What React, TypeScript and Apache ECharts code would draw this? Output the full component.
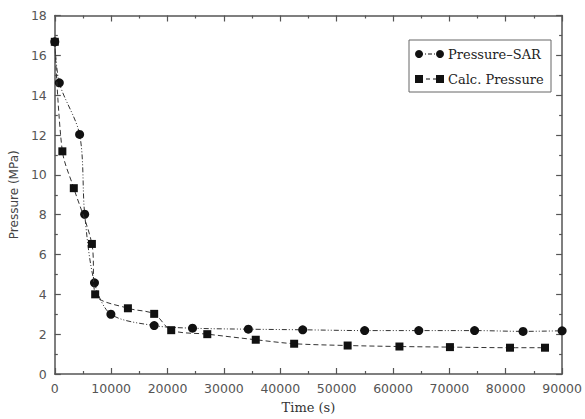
import React, { useEffect, useRef } from "react";
import * as echarts from "echarts";

// Pressure-SAR measurements: time (s), pressure (MPa)
const sarTime = [0, 800, 4400, 5300, 7040, 9950, 17630, 24430, 34330, 43980, 54970, 64570, 74470, 83070, 90000];
const sarPressure = [16.68, 14.62, 12.03, 8.02, 4.58, 3.0, 2.43, 2.3, 2.25, 2.22, 2.18, 2.18, 2.18, 2.14, 2.17];

// Calculated pressure: time (s), pressure (MPa)
const calcTime = [0, 1340, 3370, 6580, 7160, 12970, 17630, 20650, 27050, 35650, 42460, 51950, 61140, 70100, 80750, 86960];
const calcPressure = [16.68, 11.18, 9.33, 6.53, 4.0, 3.3, 3.02, 2.2, 2.0, 1.72, 1.52, 1.43, 1.38, 1.35, 1.32, 1.32];

const xTicks = [0, 10000, 20000, 30000, 40000, 50000, 60000, 70000, 80000, 90000];
const yTicks = [0, 2, 4, 6, 8, 10, 12, 14, 16, 18];

const axisColor = "#555";
const ink = "#111";
const labelFont = "DejaVu Sans";
const titleFont = "DejaVu Serif";

export default function App() {
  const ref = useRef<HTMLDivElement>(null);

  useEffect(() => {
    if (!ref.current) return;
    document.body.style.margin = "0";
    const chart = echarts.init(ref.current, null, { renderer: "svg" });

    const frameAxis = (show: boolean) => ({
      axisLine: { show: true, onZero: false, lineStyle: { color: axisColor, width: 1.5 } },
      axisTick: { show: true, inside: true, length: 6, lineStyle: { color: axisColor, width: 1.2 } },
      minorTick: { show: true, splitNumber: 2, length: 3, lineStyle: { color: axisColor, width: 1.2 } },
      splitLine: { show: false },
      axisLabel: { show },
    });

    const xMin = xTicks[0];
    const xMax = xTicks[xTicks.length - 1];
    const xStep = xTicks[1] - xTicks[0];
    const yMin = yTicks[0];
    const yMax = yTicks[yTicks.length - 1];
    const yStep = yTicks[1] - yTicks[0];

    const sarData = sarTime.map((t, i) => [t, sarPressure[i]]);
    const calcData = calcTime.map((t, i) => [t, calcPressure[i]]);

    // legend block drawn in the upper right of the plot
    const lx = 409;
    const ly = 40;
    const legend = {
      type: "group",
      children: [
        { type: "rect", shape: { x: lx, y: ly, width: 142, height: 52 }, style: { fill: "#fff", stroke: "#666", lineWidth: 1 } },
        { type: "line", shape: { x1: lx + 10, y1: ly + 14, x2: lx + 31, y2: ly + 14 }, style: { stroke: ink, lineWidth: 1, lineDash: [4, 2, 1, 2] } },
        { type: "circle", shape: { cx: lx + 10, cy: ly + 14, r: 4 }, style: { fill: ink } },
        { type: "circle", shape: { cx: lx + 31, cy: ly + 14, r: 4 }, style: { fill: ink } },
        { type: "text", x: lx + 39, y: ly + 14, style: { text: "Pressure–SAR", fill: "#222", font: `13px "${titleFont}"`, verticalAlign: "middle" } },
        { type: "line", shape: { x1: lx + 10, y1: ly + 39, x2: lx + 31, y2: ly + 39 }, style: { stroke: ink, lineWidth: 1, lineDash: [4, 3] } },
        { type: "rect", shape: { x: lx + 6, y: ly + 35, width: 8, height: 8 }, style: { fill: ink } },
        { type: "rect", shape: { x: lx + 27, y: ly + 35, width: 8, height: 8 }, style: { fill: ink } },
        { type: "text", x: lx + 39, y: ly + 39, style: { text: "Calc. Pressure", fill: "#222", font: `13px "${titleFont}"`, verticalAlign: "middle" } },
      ],
    };

    const plain = (v: number) => String(v);

    chart.setOption({
      animation: false,
      backgroundColor: "#fff",
      grid: { left: 49, right: 20, top: 15.5, bottom: 43, containLabel: false },
      xAxis: [
        {
          type: "value",
          min: xMin,
          max: xMax,
          interval: xStep,
          position: "bottom",
          name: "Time (s)",
          nameLocation: "middle",
          nameGap: 27,
          nameTextStyle: { fontFamily: titleFont, fontSize: 13, color: "#333" },
          ...frameAxis(true),
          axisLabel: { show: true, fontFamily: labelFont, fontSize: 12.5, color: "#555", margin: 8, formatter: plain },
        },
        { type: "value", min: xMin, max: xMax, interval: xStep, position: "top", ...frameAxis(false) },
      ],
      yAxis: [
        {
          type: "value",
          min: yMin,
          max: yMax,
          interval: yStep,
          position: "left",
          name: "Pressure (MPa)",
          nameLocation: "middle",
          nameGap: 32,
          nameTextStyle: { fontFamily: labelFont, fontSize: 12, color: "#444" },
          ...frameAxis(true),
          axisLabel: { show: true, fontFamily: labelFont, fontSize: 12.5, color: "#555", margin: 8, formatter: plain },
        },
        { type: "value", min: yMin, max: yMax, interval: yStep, position: "right", ...frameAxis(false) },
      ],
      series: [
        {
          name: "Pressure–SAR",
          type: "line",
          data: sarData,
          smooth: 0.3,
          symbol: "circle",
          symbolSize: 9,
          itemStyle: { color: ink },
          lineStyle: { color: "#333", width: 1, type: [5, 2, 1, 2, 1, 2] },
          z: 2,
        },
        {
          name: "Calc. Pressure",
          type: "line",
          data: calcData,
          smooth: 0.3,
          symbol: "rect",
          symbolSize: 8,
          itemStyle: { color: ink },
          lineStyle: { color: "#333", width: 1, type: [5, 3] },
          z: 3,
        },
      ],
      graphic: [legend],
    });

    return () => chart.dispose();
  }, []);

  return <div ref={ref} style={{ width: 585, height: 419 }} />;
}
